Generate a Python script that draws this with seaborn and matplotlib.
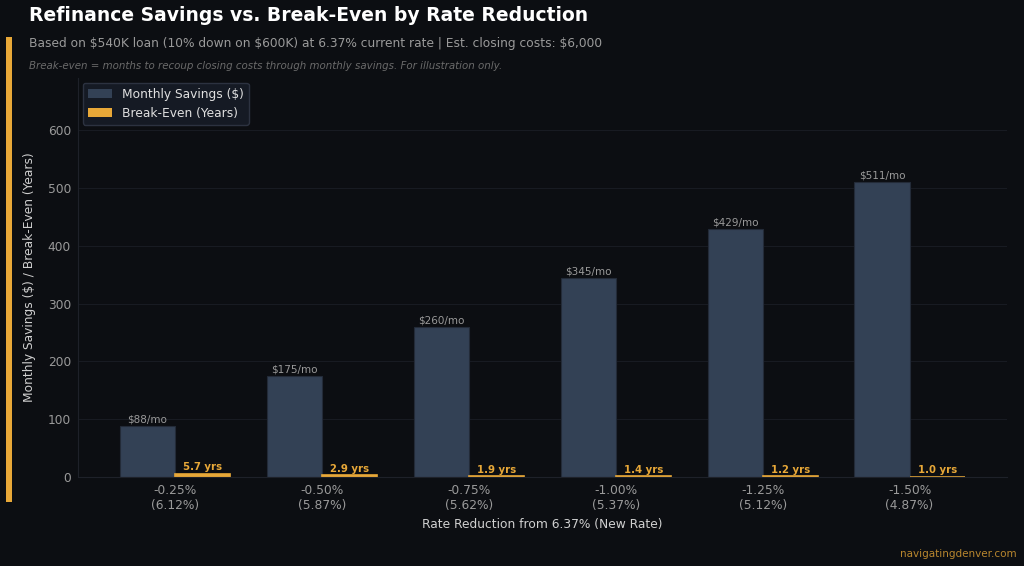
import matplotlib
matplotlib.use("Agg")
import matplotlib.pyplot as plt
import seaborn as sns
import pandas as pd
from matplotlib.patches import Rectangle

# Datos
reducciones = ["-0.25%", "-0.50%", "-0.75%", "-1.00%", "-1.25%", "-1.50%"]
tasas_nuevas = ["6.12%", "5.87%", "5.62%", "5.37%", "5.12%", "4.87%"]
ahorro_mensual = [88, 175, 260, 345, 429, 511]
equilibrio_anos = [5.7, 2.9, 1.9, 1.4, 1.2, 1.0]

bg = "#0c0e12"
azul = "#334155"
naranja = "#e8a838"

etiquetas = [f"{r}\n({t})" for r, t in zip(reducciones, tasas_nuevas)]

df = pd.DataFrame({
    "cat": etiquetas * 2,
    "valor": ahorro_mensual + equilibrio_anos,
    "serie": ["Monthly Savings ($)"] * 6 + ["Break-Even (Years)"] * 6,
})

sns.set_style("dark")
plt.rcParams["font.family"] = ["DejaVu Sans"]

fig = plt.figure(figsize=(10.24, 5.66), dpi=100, facecolor=bg)
ax = fig.add_axes([0.076, 0.157, 0.907, 0.705])
ax.set_facecolor(bg)

sns.barplot(
    data=df, x="cat", y="valor", hue="serie",
    palette=[azul, naranja], width=0.75, ax=ax,
    saturation=1, edgecolor="none"
)

# borde para que las barras bajas se vean
for p in ax.containers[1]:
    p.set_edgecolor(naranja)
    p.set_linewidth(1.2)
for p in ax.containers[0]:
    p.set_edgecolor("#232b38")
    p.set_linewidth(0.8)

ax.set_xlim(-0.66, 5.66)
ax.set_ylim(0, max(ahorro_mensual) * 1.35)

# Etiquetas de valores
ax.bar_label(ax.containers[0], labels=[f"${v}/mo" for v in ahorro_mensual],
             color="#9a9a9a", fontsize=7.5, padding=1)
ax.bar_label(ax.containers[1], labels=[f"{v:.1f} yrs" for v in equilibrio_anos],
             color=naranja, fontsize=7.3, fontweight="bold", padding=1)

ax.grid(axis="y", color="#181b22", linewidth=0.8)
ax.grid(axis="x", visible=False)
ax.set_axisbelow(True)

for s in ["top", "right"]:
    ax.spines[s].set_visible(False)
for s in ["left", "bottom"]:
    ax.spines[s].set_color("#1e2129")

ax.tick_params(colors="#9a9a9a", labelsize=8.8, length=3, pad=2)
ax.tick_params(axis="x", color="#4a4e56")
ax.tick_params(axis="y", color="#4a4e56")

ax.set_xlabel("Rate Reduction from 6.37% (New Rate)", color="#d0d0d0", fontsize=8.8, labelpad=4)
ax.set_ylabel("Monthly Savings ($) / Break-Even (Years)", color="#d0d0d0", fontsize=8.8, labelpad=8)

leg = ax.legend(loc="upper left", facecolor="#151a24", edgecolor="#2c3240",
                fontsize=8.8, framealpha=1, borderaxespad=0.4)
for t in leg.get_texts():
    t.set_color("#e0e0e0")

# Textos de figura
fig.text(0.028, 0.973, "Refinance Savings vs. Break-Even by Rate Reduction",
         color="white", fontsize=13.5, fontweight="bold", va="center")
fig.text(0.028, 0.924, "Based on $540K loan (10% down on $600K) at 6.37% current rate | Est. closing costs: $6,000",
         color="#9a9a9a", fontsize=8.85, va="center")
fig.text(0.028, 0.883, "Break-even = months to recoup closing costs through monthly savings. For illustration only.",
         color="#6a6a6a", fontsize=7.4, style="italic", va="center")
fig.text(0.993, 0.022, "navigatingdenver.com", color="#b8862e", fontsize=7.5, ha="right", va="center")

fig.patches.append(Rectangle((0.006, 0.113), 0.006, 0.822, transform=fig.transFigure,
                             facecolor=naranja, edgecolor="none"))

fig.savefig("out.png", dpi=100, facecolor=bg)
